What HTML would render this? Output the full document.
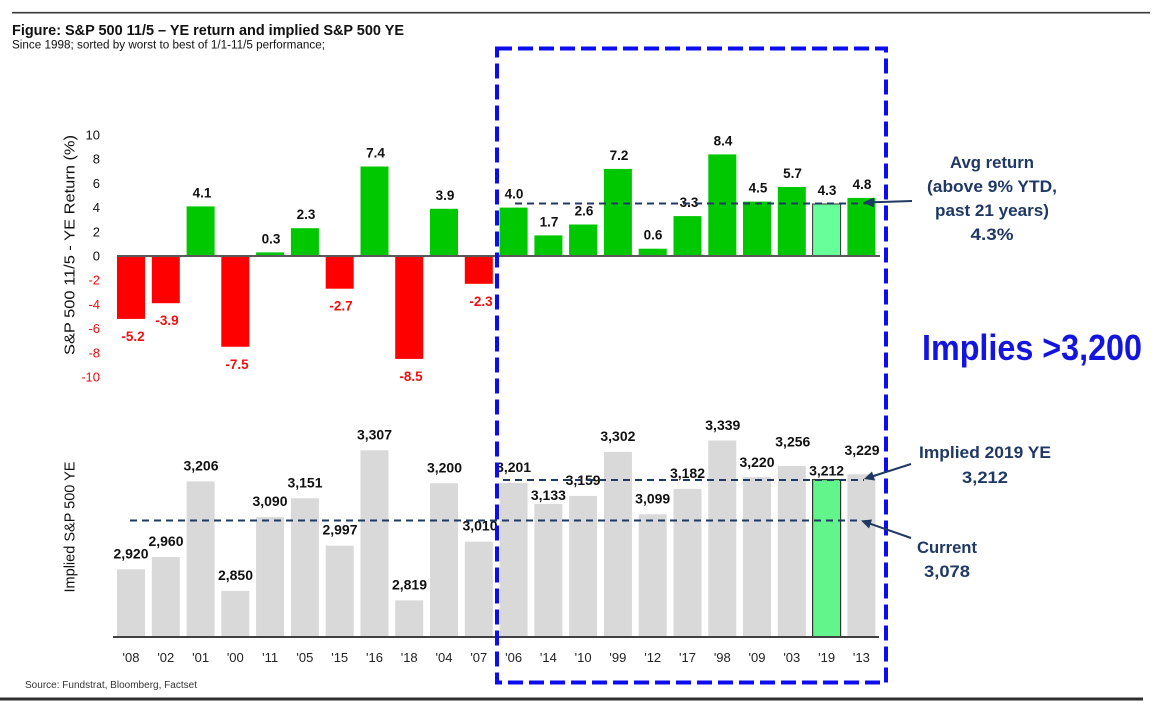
<!DOCTYPE html>
<html><head><meta charset="utf-8"><style>
html,body{margin:0;padding:0;background:#fff;}
svg{display:block;}
text{font-family:"Liberation Sans",Arial,sans-serif;}
.n{font-family:"Liberation Sans Narrow","Liberation Sans",Arial,sans-serif;font-weight:bold;fill:#1f3864;}
.tl{font-size:13.5px;font-weight:bold;fill:#111;text-anchor:middle;}
.tr{font-size:13.5px;font-weight:bold;fill:#f01010;text-anchor:middle;}
.bl{font-size:14px;font-weight:bold;fill:#111;text-anchor:middle;}
.xl{font-size:13px;fill:#222;text-anchor:middle;}
.yt{font-size:13px;text-anchor:end;}
</style></head><body>
<svg width="1159" height="703" viewBox="0 0 1159 703" xmlns="http://www.w3.org/2000/svg">
<rect width="1159" height="703" fill="#fff"/>
<line x1="12" y1="12.7" x2="1150" y2="12.7" stroke="#3a3a3a" stroke-width="1.6"/>
<text x="12" y="35" font-size="15" font-weight="bold" fill="#111" textLength="392" lengthAdjust="spacingAndGlyphs">Figure: S&amp;P 500 11/5 – YE return and implied S&amp;P 500 YE</text>
<text x="12" y="48.5" font-size="11.5" fill="#111" textLength="313" lengthAdjust="spacingAndGlyphs">Since 1998; sorted by worst to best of 1/1-11/5 performance;</text>

<!-- top y ticks -->
<g class="yt">
<text x="100" y="139.5" fill="#111">10</text>
<text x="100" y="163.7" fill="#111">8</text>
<text x="100" y="187.9" fill="#111">6</text>
<text x="100" y="212.1" fill="#111">4</text>
<text x="100" y="236.3" fill="#111">2</text>
<text x="100" y="260.5" fill="#111">0</text>
<text x="100" y="284.7" fill="#f01010">-2</text>
<text x="100" y="308.9" fill="#f01010">-4</text>
<text x="100" y="333.1" fill="#f01010">-6</text>
<text x="100" y="357.3" fill="#f01010">-8</text>
<text x="100" y="381.5" fill="#f01010">-10</text>
</g>
<text transform="translate(74.5,245) rotate(-90)" text-anchor="middle" font-size="15" fill="#111" textLength="220" lengthAdjust="spacingAndGlyphs">S&amp;P 500 11/5 - YE Return (%)</text>
<text transform="translate(74.5,527) rotate(-90)" text-anchor="middle" font-size="15" fill="#111" textLength="131" lengthAdjust="spacingAndGlyphs">Implied S&amp;P 500 YE</text>

<!-- top bars -->
<g>
<rect x="117" y="256" width="28" height="62.9" fill="#ff0000"/>
<rect x="151.8" y="256" width="28" height="47.2" fill="#ff0000"/>
<rect x="186.6" y="206.4" width="28" height="49.6" fill="#00c800"/>
<rect x="221.3" y="256" width="28" height="90.75" fill="#ff0000"/>
<rect x="256.1" y="252.4" width="28" height="3.6" fill="#00c800"/>
<rect x="290.9" y="228.2" width="28" height="27.8" fill="#00c800"/>
<rect x="325.7" y="256" width="28" height="32.7" fill="#ff0000"/>
<rect x="360.5" y="166.5" width="28" height="89.5" fill="#00c800"/>
<rect x="395.2" y="256" width="28" height="102.9" fill="#ff0000"/>
<rect x="430" y="208.8" width="28" height="47.2" fill="#00c800"/>
<rect x="464.8" y="256" width="28" height="27.8" fill="#ff0000"/>
<rect x="499.6" y="207.6" width="28" height="48.4" fill="#00c800"/>
<rect x="534.4" y="235.4" width="28" height="20.6" fill="#00c800"/>
<rect x="569.1" y="224.5" width="28" height="31.5" fill="#00c800"/>
<rect x="603.9" y="168.9" width="28" height="87.1" fill="#00c800"/>
<rect x="638.7" y="248.7" width="28" height="7.3" fill="#00c800"/>
<rect x="673.5" y="216.1" width="28" height="39.9" fill="#00c800"/>
<rect x="708.3" y="154.4" width="28" height="101.6" fill="#00c800"/>
<rect x="743" y="201.6" width="28" height="54.4" fill="#00c800"/>
<rect x="777.8" y="187" width="28" height="69" fill="#00c800"/>
<rect x="812.6" y="204" width="28" height="52" fill="#66ff99" stroke="#333" stroke-width="1"/>
<rect x="847.4" y="197.9" width="28" height="58.1" fill="#00c800"/>
</g>
<line x1="117" y1="256" x2="880" y2="256" stroke="#595959" stroke-width="2"/>

<!-- top labels -->
<text class="tr" x="133" y="341">-5.2</text>
<text class="tr" x="167" y="325">-3.9</text>
<text class="tl" x="202" y="197.4">4.1</text>
<text class="tr" x="237" y="368.8">-7.5</text>
<text class="tl" x="271" y="243.4">0.3</text>
<text class="tl" x="306" y="219.2">2.3</text>
<text class="tr" x="341" y="310.7">-2.7</text>
<text class="tl" x="375.5" y="157.5">7.4</text>
<text class="tr" x="411" y="380.9">-8.5</text>
<text class="tl" x="445" y="199.8">3.9</text>
<text class="tr" x="481" y="305.8">-2.3</text>
<text class="tl" x="514" y="198.6">4.0</text>
<text class="tl" x="549" y="226.4">1.7</text>
<text class="tl" x="584" y="215.5">2.6</text>
<text class="tl" x="619" y="159.9">7.2</text>
<text class="tl" x="653" y="239.7">0.6</text>
<text class="tl" x="689" y="207.1">3.3</text>
<text class="tl" x="723" y="145.4">8.4</text>
<text class="tl" x="758" y="192.6">4.5</text>
<text class="tl" x="792.5" y="178">5.7</text>
<text class="tl" x="827" y="195">4.3</text>
<text class="tl" x="862" y="188.9">4.8</text>

<line x1="515" y1="203.5" x2="866" y2="203.5" stroke="#1f3864" stroke-width="2" stroke-dasharray="7 5"/>

<!-- bottom bars -->
<g fill="#d9d9d9">
<rect x="117" y="569.35" width="28" height="67.65"/>
<rect x="151.8" y="557.05" width="28" height="79.95"/>
<rect x="186.6" y="481.4" width="28" height="155.6"/>
<rect x="221.3" y="590.9" width="28" height="46.1"/>
<rect x="256.1" y="517.1" width="28" height="119.9"/>
<rect x="290.9" y="498.3" width="28" height="138.7"/>
<rect x="325.7" y="545.7" width="28" height="91.3"/>
<rect x="360.5" y="450.3" width="28" height="186.7"/>
<rect x="395.2" y="600.4" width="28" height="36.6"/>
<rect x="430" y="483.25" width="28" height="153.75"/>
<rect x="464.8" y="541.7" width="28" height="95.3"/>
<rect x="499.6" y="482.9" width="28" height="154.1"/>
<rect x="534.4" y="503.9" width="28" height="133.1"/>
<rect x="569.1" y="495.9" width="28" height="141.1"/>
<rect x="603.9" y="451.9" width="28" height="185.1"/>
<rect x="638.7" y="514.3" width="28" height="122.7"/>
<rect x="673.5" y="488.8" width="28" height="148.2"/>
<rect x="708.3" y="440.5" width="28" height="196.5"/>
<rect x="743" y="477.1" width="28" height="159.9"/>
<rect x="777.8" y="466" width="28" height="171"/>
<rect x="847.4" y="474.3" width="28" height="162.7"/>
</g>
<rect x="812.6" y="479.6" width="28" height="157.4" fill="#62f58c" stroke="#2d3b2d" stroke-width="1.2"/>
<line x1="113" y1="637" x2="879" y2="637" stroke="#404040" stroke-width="2"/>

<!-- bottom labels -->
<text class="bl" x="131" y="558.5">2,920</text>
<text class="bl" x="166" y="546">2,960</text>
<text class="bl" x="201" y="470.4">3,206</text>
<text class="bl" x="235.5" y="579.9">2,850</text>
<text class="bl" x="270" y="506.1">3,090</text>
<text class="bl" x="305" y="487.3">3,151</text>
<text class="bl" x="340" y="534.7">2,997</text>
<text class="bl" x="374.5" y="439.3">3,307</text>
<text class="bl" x="409.5" y="589.4">2,819</text>
<text class="bl" x="444.5" y="472.3">3,200</text>
<text class="bl" x="480" y="530.7">3,010</text>
<text class="bl" x="513.6" y="471.9">3,201</text>
<text class="bl" x="548.4" y="500">3,133</text>
<text class="bl" x="583.1" y="484.9">3,159</text>
<text class="bl" x="617.9" y="440.9">3,302</text>
<text class="bl" x="652.7" y="503.3">3,099</text>
<text class="bl" x="687.5" y="477.8">3,182</text>
<text class="bl" x="722.8" y="430">3,339</text>
<text class="bl" x="757" y="466.8">3,220</text>
<text class="bl" x="792.8" y="446.5">3,256</text>
<text class="bl" x="826.6" y="475.5">3,212</text>
<text class="bl" x="862" y="455">3,229</text>

<line x1="503" y1="480" x2="864" y2="480" stroke="#1f3864" stroke-width="2" stroke-dasharray="7 5"/>
<line x1="130" y1="520.5" x2="862" y2="520.5" stroke="#1f3864" stroke-width="2" stroke-dasharray="7 5"/>

<!-- x labels -->
<g class="xl">
<text x="131" y="662">'08</text>
<text x="165.8" y="662">'02</text>
<text x="200.6" y="662">'01</text>
<text x="235.3" y="662">'00</text>
<text x="270.1" y="662">'11</text>
<text x="304.9" y="662">'05</text>
<text x="339.7" y="662">'15</text>
<text x="374.5" y="662">'16</text>
<text x="409.2" y="662">'18</text>
<text x="444" y="662">'04</text>
<text x="478.8" y="662">'07</text>
<text x="513.6" y="662">'06</text>
<text x="548.4" y="662">'14</text>
<text x="583.1" y="662">'10</text>
<text x="617.9" y="662">'99</text>
<text x="652.7" y="662">'12</text>
<text x="687.5" y="662">'17</text>
<text x="722.3" y="662">'98</text>
<text x="757" y="662">'09</text>
<text x="791.8" y="662">'03</text>
<text x="826.6" y="662">'19</text>
<text x="861.4" y="662">'13</text>
</g>

<text x="25" y="688" font-size="10" fill="#333" textLength="172" lengthAdjust="spacingAndGlyphs">Source: Fundstrat, Bloomberg, Factset</text>
<line x1="0" y1="699" x2="1143" y2="699" stroke="#2e2e2e" stroke-width="3"/>

<!-- blue box -->
<rect x="497" y="48.5" width="389" height="634" fill="none" stroke="#0c0cf0" stroke-width="4" stroke-dasharray="15 6"/>

<!-- arrows -->
<g stroke="#1f3864" stroke-width="2" fill="#1f3864">
<line x1="912" y1="201" x2="872" y2="202.3"/>
<polygon stroke="none" points="863,202.5 874,197.5 874,207.5"/>
<line x1="911" y1="464" x2="872" y2="476.5"/>
<polygon stroke="none" points="864,479 875,480.5 872,471.5"/>
<line x1="911" y1="538" x2="869" y2="523.3"/>
<polygon stroke="none" points="861,520.5 872,519.5 869,528.5"/>
</g>

<!-- annotations -->
<text class="n" x="992" y="168" font-size="17" text-anchor="middle" textLength="84" lengthAdjust="spacingAndGlyphs">Avg return</text>
<text class="n" x="992" y="192" font-size="17" text-anchor="middle" textLength="130" lengthAdjust="spacingAndGlyphs">(above 9% YTD,</text>
<text class="n" x="992" y="216" font-size="17" text-anchor="middle" textLength="114" lengthAdjust="spacingAndGlyphs">past 21 years)</text>
<text class="n" x="992" y="240" font-size="17" text-anchor="middle" textLength="43" lengthAdjust="spacingAndGlyphs">4.3%</text>

<text x="922" y="360" font-size="36" font-weight="bold" fill="#1414e0" style="font-family:'Liberation Sans Narrow','Liberation Sans',sans-serif" textLength="220" lengthAdjust="spacingAndGlyphs">Implies &gt;3,200</text>

<text class="n" x="985" y="458" font-size="17" text-anchor="middle" textLength="132" lengthAdjust="spacingAndGlyphs">Implied 2019 YE</text>
<text class="n" x="985" y="483" font-size="17" text-anchor="middle" textLength="46" lengthAdjust="spacingAndGlyphs">3,212</text>
<text class="n" x="917" y="553" font-size="17" textLength="60" lengthAdjust="spacingAndGlyphs">Current</text>
<text class="n" x="924" y="577" font-size="17" textLength="46" lengthAdjust="spacingAndGlyphs">3,078</text>
</svg>
</body></html>
